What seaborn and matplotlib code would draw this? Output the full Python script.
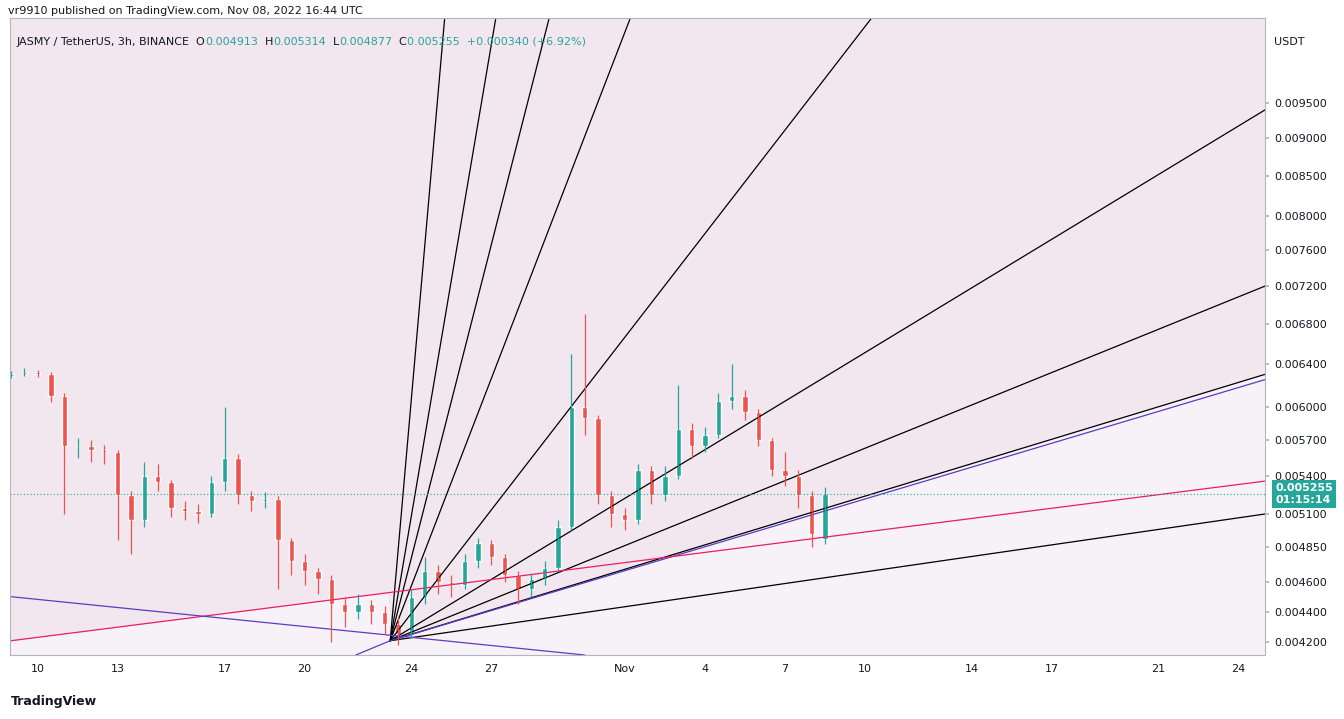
import numpy as np
import pandas as pd
import matplotlib
matplotlib.use("Agg")
import matplotlib.pyplot as plt
import matplotlib.dates as mdates
import seaborn as sns

# 12h candles from 2022-10-09 00:00
start = "2022-10-09"
closes = [0.00630, 0.00632, 0.00630, 0.00610, 0.00565, 0.00565, 0.00562, 0.00560, 0.00525, 0.00505,
          0.00540, 0.00535, 0.00515, 0.00512, 0.00510, 0.00535, 0.00555, 0.00525, 0.00520, 0.00522,
          0.00490, 0.00475, 0.00468, 0.00462, 0.00445, 0.00440, 0.00445, 0.00440, 0.00432, 0.00425,
          0.00450, 0.00468, 0.00460, 0.00458, 0.00475, 0.00488, 0.00478, 0.00465, 0.00455, 0.00462,
          0.00470, 0.00500, 0.00600, 0.00590, 0.00525, 0.00510, 0.00505, 0.00545, 0.00525, 0.00540,
          0.00580, 0.00565, 0.00575, 0.00605, 0.00610, 0.00595, 0.00570, 0.00545, 0.00540, 0.00525,
          0.00495, 0.005255]
opens = [0.00628] + closes[:-1]
opens[-1] = 0.004913
highs = [0.00633, 0.00636, 0.00634, 0.00632, 0.00612, 0.00572, 0.00570, 0.00566, 0.00562, 0.00528,
         0.00552, 0.00550, 0.00537, 0.00520, 0.00518, 0.00540, 0.00600, 0.00558, 0.00528, 0.00527,
         0.00524, 0.00492, 0.00480, 0.00470, 0.00465, 0.00450, 0.00452, 0.00448, 0.00444, 0.00436,
         0.00455, 0.00478, 0.00472, 0.00465, 0.00480, 0.00492, 0.00490, 0.00480, 0.00468, 0.00466,
         0.00475, 0.00505, 0.00650, 0.00690, 0.00592, 0.00528, 0.00515, 0.00550, 0.00548, 0.00548,
         0.00620, 0.00585, 0.00582, 0.00612, 0.00640, 0.00615, 0.00598, 0.00572, 0.00560, 0.00545,
         0.00528, 0.005314]
lows = [0.00626, 0.00628, 0.00627, 0.00604, 0.00510, 0.00555, 0.00552, 0.00550, 0.00490, 0.00480,
        0.00500, 0.00528, 0.00508, 0.00505, 0.00503, 0.00508, 0.00528, 0.00518, 0.00512, 0.00515,
        0.00455, 0.00465, 0.00458, 0.00452, 0.00420, 0.00430, 0.00435, 0.00432, 0.00425, 0.00418,
        0.00423, 0.00445, 0.00452, 0.00450, 0.00455, 0.00470, 0.00472, 0.00460, 0.00445, 0.00450,
        0.00458, 0.00468, 0.00498, 0.00575, 0.00518, 0.00500, 0.00498, 0.00502, 0.00518, 0.00520,
        0.00538, 0.00555, 0.00560, 0.00572, 0.00598, 0.00588, 0.00565, 0.00540, 0.00532, 0.00515,
        0.00485, 0.004877]

# fan: origin and end points (date, price)
fan_origin = ("2022-10-23 05:00", 0.00421)
fan_black_ends = [("2022-10-25 06:00", 0.0108), ("2022-10-27 04:00", 0.0108), ("2022-10-29 04:00", 0.0108),
                  ("2022-11-01 05:00", 0.0108), ("2022-11-10 06:00", 0.0108), ("2022-11-25 00:00", 0.00940),
                  ("2022-11-25 00:00", 0.00720), ("2022-11-25 00:00", 0.00630), ("2022-11-25 00:00", 0.00510)]
fan_purple_end = ("2022-11-25 00:00", 0.00625)
pink_line = [("2022-10-09 00:00", 0.00421), ("2022-11-25 00:00", 0.00536)]
purple_line = [("2022-10-09 00:00", 0.00450), ("2022-10-30 12:00", 0.00412)]
purple_short = [("2022-10-21 22:00", 0.00412), ("2022-10-23 05:00", 0.00421)]

tick_days = ["2022-10-10", "2022-10-13", "2022-10-17", "2022-10-20", "2022-10-24", "2022-10-27", "2022-11-01",
             "2022-11-04", "2022-11-07", "2022-11-10", "2022-11-14", "2022-11-17", "2022-11-21", "2022-11-24"]
tick_names = ["10", "13", "17", "20", "24", "27", "Nov", "4", "7", "10", "14", "17", "21", "24"]
price_ticks = [0.0042, 0.0044, 0.0046, 0.00485, 0.0051, 0.0054, 0.0057, 0.0060, 0.0064, 0.0068,
               0.0072, 0.0076, 0.0080, 0.0085, 0.0090, 0.0095]
header_parts = [("JASMY / TetherUS, 3h, BINANCE  O", "#131722"), ("0.004913", "#26a69a"), ("  H", "#131722"),
                ("0.005314", "#26a69a"), ("  L", "#131722"), ("0.004877", "#26a69a"), ("  C", "#131722"),
                ("0.005255  +0.000340 (+6.92%)", "#26a69a")]

sns.set_theme(style="white")
df = pd.DataFrame({"t": pd.date_range(start, periods=len(closes), freq="12h"),
                   "o": opens, "h": highs, "l": lows, "c": closes})
df["x"] = mdates.date2num(df["t"])
d = lambda s: mdates.date2num(pd.Timestamp(s))

fig = plt.figure(figsize=(13.44, 7.19), dpi=100)
ax = fig.add_axes([0.0074, 0.089, 0.934, 0.886])
ymin, ymax = 0.00412, 0.0108
xmin, xmax = d("2022-10-08 23:00"), d("2022-11-25 00:00")
ax.set_yscale("log")
ax.set_facecolor("#f2e7ee")

# lighter zones
ox, oy = d(fan_origin[0]), fan_origin[1]
xs = np.linspace(xmin, xmax, 300)
def logline(x0, y0, x1, y1, x):
    return np.exp(np.log(y0) + (np.log(y1) - np.log(y0)) * (x - x0) / (x1 - x0))
pink_y = logline(d(pink_line[0][0]), pink_line[0][1], d(pink_line[1][0]), pink_line[1][1], xs)
fan8_y = logline(ox, oy, d(fan_black_ends[7][0]), fan_black_ends[7][1], xs)
low_y = np.where(xs < ox, pink_y, fan8_y)
ax.fill_between(xs, ymin, low_y, color="#f7f2f7", lw=0)

for end in fan_black_ends:
    ax.plot([ox, d(end[0])], [oy, end[1]], color="black", lw=0.9)
ax.plot([ox, d(fan_purple_end[0])], [oy, fan_purple_end[1]], color="#5b3cc4", lw=0.9)
sns.lineplot(x=[d(p[0]) for p in pink_line], y=[p[1] for p in pink_line], ax=ax, color="#e91e63", lw=0.9)
ax.plot([d(p[0]) for p in purple_line], [p[1] for p in purple_line], color="#5b3cc4", lw=0.9)
ax.plot([d(p[0]) for p in purple_short], [p[1] for p in purple_short], color="#5b3cc4", lw=0.9)

up = df["c"] >= df["o"]
colors = np.where(up, "#26a69a", "#ef5350")
ax.vlines(df["x"], df["l"], df["h"], colors=colors, lw=0.9)
ax.bar(df["x"], (df["c"] - df["o"]).abs(), bottom=df[["o", "c"]].min(axis=1), width=0.2, color=colors)

last = closes[-1]
ax.axhline(last, color="#26a69a", ls=(0, (1, 2)), lw=0.8)

ax.set_xlim(xmin, xmax)
ax.set_ylim(ymin, ymax)
ax.yaxis.tick_right()
ax.set_yticks(price_ticks)
ax.set_yticklabels([f"{v:.6f}" for v in price_ticks], fontsize=8, color="#131722")
ax.yaxis.set_minor_locator(matplotlib.ticker.NullLocator())
ax.set_xticks([d(t) for t in tick_days])
ax.set_xticklabels(tick_names, fontsize=8, color="#131722")
ax.tick_params(length=3, color="#b2b5be")
for s in ax.spines.values():
    s.set_color("#b2b5be")
    s.set_linewidth(0.8)

ax.text(1.008, last, "0.005255\n01:15:14", transform=ax.get_yaxis_transform(), fontsize=8,
        color="white", fontweight="bold", va="center", ha="left",
        bbox=dict(boxstyle="square,pad=0.3", fc="#26a69a", ec="none"))
fig.text(0.948, 0.942, "USDT", fontsize=8, color="#131722", va="center")

fig.text(0.006, 0.985, "vr9910 published on TradingView.com, Nov 08, 2022 16:44 UTC", fontsize=8, color="#131722", va="center")

# header pieces laid end to end
fig.canvas.draw()
renderer = fig.canvas.get_renderer()
xpos = 0.012
for txt, col in header_parts:
    t = fig.text(xpos, 0.942, txt, fontsize=8, color=col, va="center")
    xpos += t.get_window_extent(renderer).width / fig.bbox.width

fig.text(0.008, 0.024, "TradingView", fontsize=9, color="#131722", va="center", fontweight="bold")

fig.savefig("out.png", dpi=100)
